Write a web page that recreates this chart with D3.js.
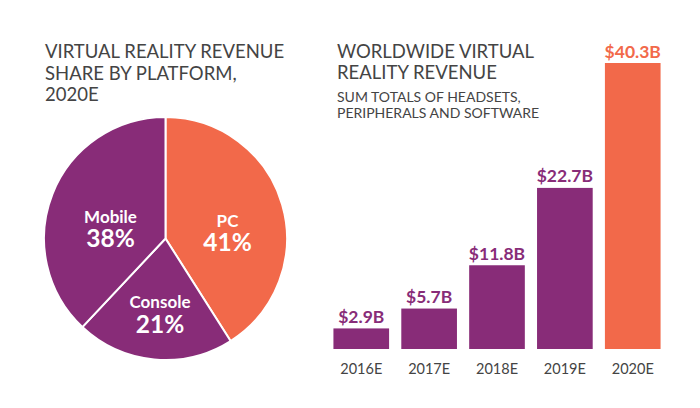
<!DOCTYPE html>
<html>
<head>
<meta charset="utf-8">
<script src="https://cdn.jsdelivr.net/npm/d3@7"></script>
<style>
  html, body { margin: 0; padding: 0; background: #fff; }
  svg { display: block; }
  text { font-family: Lato, "Open Sans", sans-serif; }
</style>
</head>
<body>
<svg id="chart" width="700" height="408"></svg>
<script>
// ---- Data ----
const platforms = ["PC", "Console", "Mobile"];
const platformShares = [41, 21, 38];
const years = ["2016E", "2017E", "2018E", "2019E", "2020E"];
const revenues = [2.9, 5.7, 11.8, 22.7, 40.3];
const revenueLabels = ["$2.9B", "$5.7B", "$11.8B", "$22.7B", "$40.3B"];
const pieTitle = ["VIRTUAL REALITY REVENUE", "SHARE BY PLATFORM,", "2020E"];
const barTitle = ["WORLDWIDE VIRTUAL", "REALITY REVENUE"];
const barSubtitle = ["SUM TOTALS OF HEADSETS,", "PERIPHERALS AND SOFTWARE"];

const PURPLE = "#882c78";
const ORANGE = "#f2694a";
const TEXT = "#444444";

const svg = d3.select("#chart");

// ---- Pie titles ----
svg.append("g").selectAll("text").data(pieTitle).join("text")
  .attr("x", 45).attr("y", (d, i) => 58 + i * 21.5)
  .attr("font-size", 18.5).attr("fill", TEXT).text(d => d);

// ---- Pie ----
const pieColors = [ORANGE, PURPLE, PURPLE];
const cx = 165.5, cy = 238.5, r = 121.5;
const pie = d3.pie().sort(null).value(d => d.v);
const pieData = pie(platforms.map((p, i) => ({ name: p, v: platformShares[i], i })));
const arc = d3.arc().innerRadius(0).outerRadius(r);
const pg = svg.append("g").attr("transform", `translate(${cx},${cy})`);
pg.selectAll("path").data(pieData).join("path")
  .attr("d", arc)
  .attr("fill", d => pieColors[d.data.i])
  .attr("stroke", "#fff").attr("stroke-width", 2).attr("stroke-linejoin", "round");

const labelPos = { "PC": [62, -12], "Console": [-5.5, 69.5], "Mobile": [-55, -16] };
pieData.forEach(d => {
  const [lx, ly] = labelPos[d.data.name];
  const g = pg.append("g").attr("transform", `translate(${lx},${ly})`);
  g.append("text").attr("text-anchor", "middle").attr("font-weight", 700)
    .attr("font-size", 17).attr("fill", "#fff").text(d.data.name);
  g.append("text").attr("text-anchor", "middle").attr("font-weight", 700)
    .attr("font-size", 24.5).attr("fill", "#fff").attr("y", 24.5).text(d.data.v + "%");
});

// ---- Bar titles ----
svg.append("g").selectAll("text").data(barTitle).join("text")
  .attr("x", 337).attr("y", (d, i) => 58 + i * 20.5)
  .attr("font-size", 18.5).attr("fill", TEXT).text(d => d);
svg.append("g").selectAll("text").data(barSubtitle).join("text")
  .attr("x", 337).attr("y", (d, i) => 102 + i * 16)
  .attr("font-size", 14).attr("fill", TEXT).text(d => d);

// ---- Bars ----
const x = d3.scaleBand().domain(years).range([328, 666]).paddingInner(0.18).paddingOuter(0.08);
const y = d3.scaleLinear().domain([0, 40.3]).range([349, 63]);
const barColors = years.map((d, i) => i === years.length - 1 ? ORANGE : PURPLE);

const bg = svg.append("g");
bg.selectAll("rect").data(years).join("rect")
  .attr("x", d => x(d)).attr("width", x.bandwidth())
  .attr("y", (d, i) => y(revenues[i]))
  .attr("height", (d, i) => y(0) - y(revenues[i]))
  .attr("fill", (d, i) => barColors[i]);

bg.selectAll("text.val").data(years).join("text").attr("class", "val")
  .attr("x", d => x(d) + x.bandwidth() / 2)
  .attr("y", (d, i) => y(revenues[i]) - 5.5)
  .attr("text-anchor", "middle").attr("font-weight", 700).attr("font-size", 17.5)
  .attr("fill", (d, i) => barColors[i])
  .text((d, i) => revenueLabels[i]);

const xAxis = d3.axisBottom(x).tickSize(0).tickPadding(0);
const ax = svg.append("g").attr("transform", `translate(0,${y(0)})`).call(xAxis);
ax.select(".domain").remove();
ax.selectAll("text").attr("font-family", "Lato, sans-serif").attr("font-size", 14.5)
  .attr("fill", TEXT).attr("dy", null).attr("y", 25);
</script>
</body>
</html>
